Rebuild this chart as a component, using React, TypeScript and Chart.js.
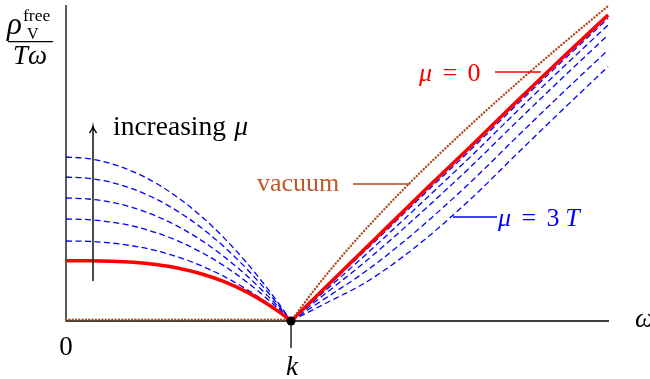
import { useEffect, useRef } from "react";
import { Chart, registerables } from "chart.js";

Chart.register(...registerables);

// ---- data (x in units of k, y in arbitrary units) ----
const kValue = 1;
const omegaMax = 2.413;
const yMax = 316;

const leftOmega = [0, 0.1, 0.2, 0.3, 0.4, 0.5, 0.6, 0.7, 0.8, 0.9, 0.95, 1];
const rightOmega = [1, 1.1, 1.2, 1.3, 1.4, 1.5, 1.6, 1.8, 2.0, 2.2, 2.409];

const vacuumLeftOmega = [0, 1];
const vacuumLeft = [1.4, 1.4];
const vacuumRight = [0, 30.2, 57.9, 83.9, 108.3, 131.7, 154.1, 196.6, 237, 275.8, 315];

const mu0Left = [60.3, 60.2, 59.8, 58.7, 56.4, 52.8, 47.3, 39.6, 29.4, 16.3, 8.6, 0];
const mu0Right = [0, 22, 44, 66, 88, 110, 132, 175, 219, 262, 306];

const mu1Left = [80, 79.6, 78.0, 75.0, 70.3, 63.8, 55.3, 44.8, 32.1, 17.2, 8.9, 0];
const mu1Right = [0, 21.3, 42.6, 64.0, 85.4, 107.1, 128.8, 171.6, 215.6, 258.6, 302.7];
const mu2Left = [102, 101.4, 99.0, 94.8, 88.4, 79.8, 68.9, 55.5, 39.6, 21.1, 10.9, 0];
const mu2Right = [0, 20.0, 39.9, 59.9, 80.4, 101.2, 122.4, 164.8, 208.8, 251.9, 296.0];
const mu3Left = [123, 122.0, 118.8, 113.2, 105.0, 94.3, 80.9, 64.8, 46.0, 24.4, 12.6, 0];
const mu3Right = [0, 17.9, 35.8, 53.8, 72.7, 92.5, 112.8, 154.6, 198.6, 241.8, 286.0];
const mu4Left = [144, 142.7, 138.7, 131.8, 122.0, 109.2, 93.5, 74.7, 52.9, 28.0, 14.4, 0];
const mu4Right = [0, 14.9, 29.7, 44.6, 61.2, 79.3, 98.4, 139.3, 183.3, 226.7, 271.0];
const mu5Left = [164, 162.4, 157.4, 149.2, 137.8, 123.0, 105.0, 83.6, 59.0, 31.2, 16.0, 0];
const mu5Right = [0, 11.5, 22.9, 34.4, 48.5, 64.7, 82.5, 122.3, 166.3, 209.8, 254.4];

const blueLeftSeries = [mu1Left, mu2Left, mu3Left, mu4Left, mu5Left];
const blueRightSeries = [mu1Right, mu2Right, mu3Right, mu4Right, mu5Right];

const FONT = "'Liberation Serif', 'Times New Roman', serif";
const RED = "#ff0000";
const BLUE = "#0000ff";
const BROWN_LINE = "#b04a1c";
const BROWN_TEXT = "#c0582e";

const pts = (xs: number[], ys: number[]) => xs.map((x, i) => ({ x, y: ys[i] }));

// part: [text, italic, gapAfterInEm]
type Part = [string, boolean, number?];
function drawRich(ctx: CanvasRenderingContext2D, parts: Part[], x: number, y: number, size: number, color: string) {
  ctx.fillStyle = color;
  ctx.textBaseline = "alphabetic";
  ctx.textAlign = "left";
  let cx = x;
  for (const [t, it, gap] of parts) {
    ctx.font = `${it ? "italic " : ""}${size}px ${FONT}`;
    ctx.fillText(t, cx, y);
    cx += ctx.measureText(t).width + (gap || 0) * size;
  }
}

const decor = {
  id: "decor",
  beforeDatasetsDraw(chart: any) {
    const { ctx, chartArea: a, scales } = chart;
    const kx = scales.x.getPixelForValue(kValue);
    ctx.save();
    ctx.strokeStyle = "#000";
    ctx.lineWidth = 1.3;
    ctx.beginPath();
    ctx.moveTo(a.left, a.top);
    ctx.lineTo(a.left, a.bottom);
    ctx.lineTo(a.right, a.bottom);
    ctx.moveTo(kx, a.bottom);
    ctx.lineTo(kx, a.bottom + 27);
    ctx.stroke();
    ctx.restore();
  },
  afterDatasetsDraw(chart: any) {
    const { ctx, chartArea: a, scales } = chart;
    const kx = scales.x.getPixelForValue(kValue);
    ctx.save();
    // dot at k
    ctx.fillStyle = "#000";
    ctx.beginPath();
    ctx.arc(kx, a.bottom, 4.5, 0, Math.PI * 2);
    ctx.fill();

    // arrow
    ctx.strokeStyle = "#000";
    ctx.lineWidth = 1.4;
    ctx.beginPath();
    ctx.moveTo(93, 281);
    ctx.lineTo(93, 127);
    ctx.moveTo(89.5, 133);
    ctx.quadraticCurveTo(92.5, 129, 93, 126);
    ctx.quadraticCurveTo(93.5, 129, 96.5, 133);
    ctx.stroke();

    // leader lines
    ctx.lineWidth = 1.3;
    ctx.strokeStyle = RED;
    ctx.beginPath();
    ctx.moveTo(495, 72);
    ctx.lineTo(541, 72);
    ctx.stroke();
    ctx.strokeStyle = BROWN_LINE;
    ctx.beginPath();
    ctx.moveTo(353, 184);
    ctx.lineTo(410, 184);
    ctx.stroke();
    ctx.strokeStyle = BLUE;
    ctx.beginPath();
    ctx.moveTo(453, 217);
    ctx.lineTo(497, 217);
    ctx.stroke();

    // texts
    drawRich(ctx, [["increasing", false, 0.3], ["μ", true]], 113, 135, 27.5, "#000");
    drawRich(ctx, [["μ", true, 0.4], ["=", false, 0.4], ["0", false]], 419, 81, 26, RED);
    drawRich(ctx, [["vacuum", false]], 257, 191, 26, BROWN_TEXT);
    drawRich(ctx, [["μ", true, 0.4], ["=", false, 0.4], ["3", false, 0.22], ["T", true]], 498, 226, 26, BLUE);

    ctx.textAlign = "center";
    ctx.fillStyle = "#000";
    ctx.font = `27px ${FONT}`;
    ctx.fillText("0", a.left, 355);
    ctx.font = `italic 27px ${FONT}`;
    ctx.fillText("k", kx + 1, 375);
    ctx.textAlign = "left";
    ctx.fillText("ω", 635, 327);

    // y label fraction
    drawRich(ctx, [["ρ", true]], 7, 34, 31, "#000");
    drawRich(ctx, [["V", false]], 27, 38.5, 16, "#000");
    drawRich(ctx, [["free", false]], 23, 21, 17.5, "#000");
    ctx.strokeStyle = "#000";
    ctx.lineWidth = 1.2;
    ctx.beginPath();
    ctx.moveTo(8, 41.7);
    ctx.lineTo(53, 41.7);
    ctx.stroke();
    drawRich(ctx, [["Tω", true]], 13, 63.5, 27, "#000");
    ctx.restore();
  },
};

export default function App() {
  const ref = useRef<HTMLCanvasElement | null>(null);
  useEffect(() => {
    if (!ref.current) return;
    const datasets: any[] = [];
    blueLeftSeries.forEach((s, i) => {
      datasets.push({
        data: pts(leftOmega, s),
        borderColor: BLUE,
        borderWidth: 1.3,
        borderDash: [6, 3.5],
        order: 3,
      });
      datasets.push({
        data: pts(rightOmega, blueRightSeries[i]),
        borderColor: BLUE,
        borderWidth: 1.3,
        borderDash: [6, 3.5],
        order: 3,
      });
    });
    datasets.push({ data: pts(leftOmega, mu0Left), borderColor: RED, borderWidth: 3.5, order: 2 });
    datasets.push({ data: pts(rightOmega, mu0Right), borderColor: RED, borderWidth: 3.5, order: 2 });
    const dotted = {
      borderColor: BROWN_LINE,
      borderWidth: 2.4,
      borderDash: [0.01, 3.3],
      borderCapStyle: "round",
      order: 1,
    };
    datasets.push({ ...dotted, data: pts(vacuumLeftOmega, vacuumLeft) });
    datasets.push({ ...dotted, data: pts(rightOmega, vacuumRight) });
    datasets.forEach((d) => {
      d.pointRadius = 0;
      d.fill = false;
      d.cubicInterpolationMode = "monotone";
      d.clip = false;
    });
    const chart = new Chart(ref.current, {
      type: "line",
      data: { datasets },
      options: {
        animation: false,
        responsive: false,
        devicePixelRatio: 1,
        layout: { padding: { left: 66, right: 41, top: 5, bottom: 58 } },
        plugins: { legend: { display: false }, tooltip: { enabled: false } },
        scales: {
          x: { type: "linear", min: 0, max: omegaMax, display: false },
          y: { type: "linear", min: 0, max: yMax, display: false },
        },
      },
      plugins: [decor],
    });
    return () => chart.destroy();
  }, []);
  return (
    <div style={{ position: "fixed", left: 0, top: 0, width: 650, height: 379, background: "#fff" }}>
      <canvas ref={ref} width={650} height={379} style={{ display: "block" }} />
    </div>
  );
}
